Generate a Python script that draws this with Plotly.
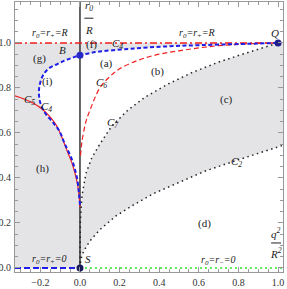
import plotly.graph_objects as go

# ---- data ----
# C7 (upper dotted black curve, S -> Q)
c7_x = [0, 0.002, 0.01, 0.03, 0.06, 0.1, 0.16, 0.24, 0.33, 0.45, 0.57, 0.7, 0.82, 0.91, 1.0]
c7_y = [0, 0.21, 0.32, 0.42, 0.49, 0.55, 0.63, 0.70, 0.76, 0.82, 0.87, 0.915, 0.95, 0.975, 1.0]
# C2 (lower dotted black curve)
c2_x = [0, 0.005, 0.02, 0.05, 0.1, 0.18, 0.27, 0.37, 0.5, 0.63, 0.78, 0.9, 1.025]
c2_y = [0, 0.04, 0.077, 0.12, 0.17, 0.23, 0.28, 0.33, 0.38, 0.43, 0.475, 0.51, 0.545]
# C6 (red dashed)
c6_x = [0.003, 0.01, 0.03, 0.05, 0.1, 0.15, 0.2, 0.3, 0.4, 0.5, 0.6, 0.7, 0.8, 0.9, 1.0]
c6_y = [0.50, 0.56, 0.65, 0.70, 0.80, 0.85, 0.885, 0.925, 0.95, 0.965, 0.978, 0.988, 0.994, 0.998, 1.0]
# C4 (blue dashed), part with q^2<0 (from bottom up to B)
c4l_x = [0, -0.005, -0.015, -0.04, -0.076, -0.105, -0.14, -0.177, -0.20, -0.207, -0.19, -0.16, -0.117, -0.076, -0.035, 0]
c4l_y = [0.28, 0.33, 0.40, 0.48, 0.55, 0.61, 0.65, 0.69, 0.733, 0.79, 0.85, 0.885, 0.905, 0.922, 0.935, 0.945]
# C4 part with q^2>0 (B -> Q)
c4r_x = [0, 0.05, 0.1, 0.17, 0.25, 0.31, 0.45, 0.6, 0.8, 1.0]
c4r_y = [0.945, 0.955, 0.962, 0.968, 0.974, 0.978, 0.985, 0.99, 0.995, 1.0]
# C5 (red solid)
c5_x = [-0.33, -0.28, -0.237, -0.19, -0.15, -0.12, -0.1, -0.08, -0.06, -0.04, -0.025, -0.012, -0.004, 0]
c5_y = [0.765, 0.75, 0.733, 0.705, 0.67, 0.635, 0.60, 0.555, 0.51, 0.465, 0.42, 0.37, 0.32, 0.27]
# special points
pt_names = ["B", "S", "Q"]
pt_x = [0, 0, 1.0]
pt_y = [0.945, 0, 1.0]

XMIN, XMAX = -0.328, 1.025
YMIN, YMAX = -0.018, 1.182

GRAY = "rgb(228,228,231)"
SERIF = "Liberation Serif"

fig = go.Figure()

# gray region (g)+(h): left half without region (i)
gx = [XMIN, 0, 0] + c4l_x + [0, XMIN]
gy = [0, 0, 0.28] + c4l_y + [1.0, 1.0]
fig.add_trace(go.Scatter(x=gx, y=gy, fill="toself", fillcolor=GRAY, mode="none", hoverinfo="skip"))
# region (f)
fx = c4r_x + [1.0, 0]
fy = c4r_y + [1.0, 1.0]
fig.add_trace(go.Scatter(x=fx, y=fy, fill="toself", fillcolor=GRAY, mode="none", hoverinfo="skip"))
# region (c)
cx = c7_x + [XMAX] + c2_x[::-1]
cy = c7_y + [1.0] + c2_y[::-1]
fig.add_trace(go.Scatter(x=cx, y=cy, fill="toself", fillcolor=GRAY, mode="none", hoverinfo="skip"))

# vertical axis line x=0
fig.add_trace(go.Scatter(x=[0, 0], y=[YMIN, YMAX], mode="lines",
                         line=dict(color="#333333", width=1.5), hoverinfo="skip"))

# horizontal lines
fig.add_trace(go.Scatter(x=[XMIN, 1.0], y=[1.0, 1.0], mode="lines",
                         line=dict(color="rgb(240,30,30)", width=1.5, dash="7px,3px,2px,3px")))
fig.add_trace(go.Scatter(x=[XMIN, 0], y=[0, 0], mode="lines",
                         line=dict(color="rgb(30,30,230)", width=2, dash="6px,3px")))
fig.add_trace(go.Scatter(x=[0, XMAX], y=[0, 0], mode="lines",
                         line=dict(color="rgb(40,230,40)", width=1.5, dash="2px,3px")))

# curves
fig.add_trace(go.Scatter(x=c7_x, y=c7_y, mode="lines",
                         line=dict(color="#222222", width=1.5, dash="1.5px,3.5px")))
fig.add_trace(go.Scatter(x=c2_x, y=c2_y, mode="lines",
                         line=dict(color="#222222", width=1.5, dash="1.5px,3.5px")))
fig.add_trace(go.Scatter(x=c6_x, y=c6_y, mode="lines", line_shape="spline",
                         line=dict(color="rgb(240,30,30)", width=1.2, dash="5px,3px")))
fig.add_trace(go.Scatter(x=c5_x, y=c5_y, mode="lines", line_shape="spline",
                         line=dict(color="rgb(240,30,30)", width=1.2)))
fig.add_trace(go.Scatter(x=c4l_x + c4r_x[1:], y=c4l_y + c4r_y[1:], mode="lines", line_shape="spline",
                         line=dict(color="rgb(30,30,230)", width=2, dash="4px,2.5px")))

# points
fig.add_trace(go.Scatter(x=pt_x, y=pt_y, mode="markers",
                         marker=dict(color=["rgb(40,40,200)", "rgb(25,25,90)", "rgb(30,30,140)"], size=7)))

def txt(x, y, s, size=11, italic=False):
    t = f"<i>{s}</i>" if italic else s
    fig.add_annotation(x=x, y=y, text=t, showarrow=False,
                       font=dict(family=SERIF, size=size, color="#222222"))

txt(-0.152, 1.044, "r<sub>0</sub>=r<sub>+</sub>=R", 10, True)
txt(0.591, 1.040, "r<sub>0</sub>=r<sub>+</sub>=R", 10, True)
txt(-0.152, 0.036, "r<sub>0</sub>=r<sub>+</sub>=0", 10, True)
txt(0.697, 0.031, "r<sub>0</sub>=r<sub>−</sub>=0", 10, True)
txt(-0.086, 0.969, "B", 11, True)
txt(0.056, 0.991, "(f)", 11)
txt(0.187, 0.996, "C<sub>4</sub>", 11, True)
txt(-0.202, 0.929, "(g)", 11)
txt(0.136, 0.907, "(a)", 11)
txt(-0.162, 0.827, "(i)", 11)
txt(0.111, 0.822, "C<sub>6</sub>", 11, True)
txt(-0.253, 0.747, "C<sub>5</sub>", 11, True)
txt(-0.167, 0.716, "C<sub>4</sub>", 11, True)
txt(0.167, 0.644, "C<sub>7</sub>", 11, True)
txt(0.389, 0.871, "(b)", 11)
txt(0.985, 1.044, "Q", 11, True)
txt(0.742, 0.747, "(c)", 11)
txt(-0.187, 0.444, "(h)", 11)
txt(0.788, 0.471, "C<sub>2</sub>", 11, True)
txt(0.631, 0.196, "(d)", 11)
txt(0.040, 0.040, "S", 11, True)

# axis labels as fractions
txt(0.045, 1.164, "r<sub>0</sub>", 11, True)
txt(0.045, 1.058, "R", 11, True)
fig.add_shape(type="line", x0=0.022, x1=0.068, y0=1.11, y1=1.11, line=dict(color="#222222", width=1))
txt(0.99, 0.155, "q<sup>2</sup>", 11, True)
txt(0.99, 0.068, "R<sup>2</sup>", 11, True)
fig.add_shape(type="line", x0=0.965, x1=1.015, y0=0.111, y1=0.111, line=dict(color="#222222", width=1))

axis_common = dict(showgrid=False, zeroline=False, showline=True, linecolor="#999999", linewidth=1,
                   mirror="allticks", ticks="inside", ticklen=5, tickcolor="#999999",
                   tickfont=dict(family=SERIF, size=10, color="#333333"),
                   tickformat=".1f", automargin=False, ticklabelstandoff=1)
fig.update_xaxes(range=[XMIN, XMAX], tick0=0, dtick=0.2,
                 minor=dict(dtick=0.05, tick0=0, ticks="inside", ticklen=3, tickcolor="#999999"),
                 **axis_common)
fig.update_yaxes(range=[YMIN, YMAX], tick0=0, dtick=0.2,
                 minor=dict(dtick=0.05, tick0=0, ticks="inside", ticklen=3, tickcolor="#999999"),
                 **axis_common)

fig.update_layout(width=287, height=289, margin=dict(l=15, r=4, t=2, b=17),
                  paper_bgcolor="white", plot_bgcolor="white", showlegend=False)

fig.write_html("out.html", config={"displayModeBar": False},
               post_script="document.body.style.margin='0px';")
